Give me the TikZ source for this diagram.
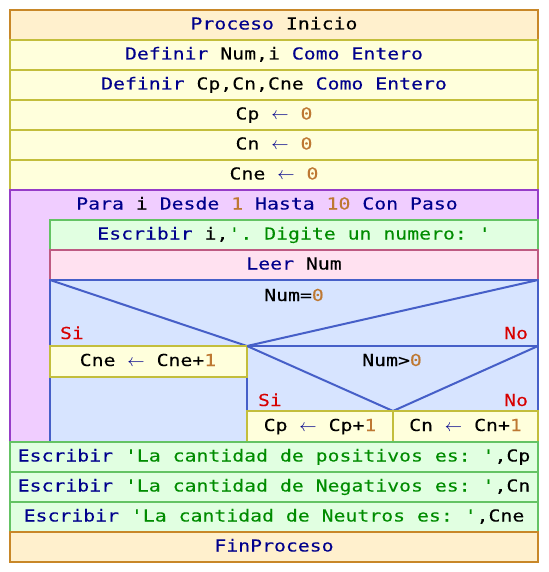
\documentclass[tikz,border=0pt]{standalone}
\usepackage{fontspec}
\setmonofont[FakeStretch=1.2, FakeBold=0.12]{DejaVu Sans Mono}
\usepackage{tikz}
\usepackage{xcolor}
\definecolor{kwnavy}{RGB}{0,0,140}
\definecolor{numbrown}{RGB}{190,120,50}
\definecolor{strgreen}{RGB}{0,140,0}
\definecolor{sired}{RGB}{215,0,0}
\definecolor{procfill}{RGB}{255,240,205}
\definecolor{procline}{RGB}{200,135,40}
\definecolor{deffill}{RGB}{255,255,220}
\definecolor{defline}{RGB}{195,190,60}
\definecolor{parafill}{RGB}{240,205,255}
\definecolor{paraline}{RGB}{150,60,200}
\definecolor{escfill}{RGB}{225,255,225}
\definecolor{escline}{RGB}{100,195,100}
\definecolor{leerfill}{RGB}{255,225,240}
\definecolor{leerline}{RGB}{190,90,130}
\definecolor{sifill}{RGB}{215,228,255}
\definecolor{siline}{RGB}{70,95,200}
\newcommand{\kw}[1]{\textcolor{kwnavy}{#1}}
\newcommand{\nv}[1]{\textcolor{numbrown}{#1}}
\newcommand{\sv}[1]{\textcolor{strgreen}{#1}}
\newcommand{\asg}{\kw{$\leftarrow$}}

\begin{document}
\begin{tikzpicture}[x=1pt, y=-1pt, line width=2pt,
    lbl/.style={font=\ttfamily\fontsize{16.5}{18}\selectfont, anchor=base, inner sep=0pt},
    cond/.style={lbl, text=sired},
    procbox/.style={fill=procfill, draw=procline},
    defbox/.style={fill=deffill, draw=defline},
    parabox/.style={fill=parafill, draw=paraline},
    escbox/.style={fill=escfill, draw=escline},
    leerbox/.style={fill=leerfill, draw=leerline},
    sibox/.style={fill=sifill, draw=siline}]
    \useasboundingbox (0,0) rectangle (548,572);

    % Inicio and definitions
    \filldraw[procbox] (10,10) rectangle (538,40);
    \node[lbl] (inicio) at (274,29.5) {\kw{Proceso} Inicio};
    \filldraw[defbox] (10,40) rectangle (538,70);
    \node[lbl] (defnum) at (274,59.5) {\kw{Definir} Num,i \kw{Como Entero}};
    \filldraw[defbox] (10,70) rectangle (538,100);
    \node[lbl] (defcont) at (274,89.5) {\kw{Definir} Cp,Cn,Cne \kw{Como Entero}};
    \filldraw[defbox] (10,100) rectangle (538,130);
    \node[lbl] (cpcero) at (274,119.5) {Cp \asg{} \nv{0}};
    \filldraw[defbox] (10,130) rectangle (538,160);
    \node[lbl] (cncero) at (274,149.5) {Cn \asg{} \nv{0}};
    \filldraw[defbox] (10,160) rectangle (538,190);
    \node[lbl] (cnecero) at (274,179.5) {Cne \asg{} \nv{0}};

    % Para loop
    \filldraw[parabox] (10,190) rectangle (538,442);
    \node[lbl] (para) at (267,209.5) {\kw{Para} i \kw{Desde} \nv{1} \kw{Hasta} \nv{10} \kw{Con Paso}};
    \filldraw[escbox] (50,220) rectangle (538,250);
    \node[lbl] (escnum) at (294,239.5) {\kw{Escribir} i,\sv{'. Digite un numero: '}};
    \filldraw[leerbox] (50,250) rectangle (538,280);
    \node[lbl] (leer) at (294,269.5) {\kw{Leer} Num};

    % Si Num=0
    \filldraw[sibox] (50,280) rectangle (538,442);
    \draw[siline] (50,280) -- (247,346) -- (538,280);
    \draw[siline] (50,346) -- (538,346);
    \draw[siline] (247,346) -- (247,442);
    \node[lbl] (igual) at (294,301) {Num=\nv{0}};
    \node[cond, anchor=base west] (si1) at (59,339) {Si};
    \node[cond, anchor=base east] (no1) at (529,339) {No};
    \filldraw[defbox] (50,346) rectangle (247,377);
    \node[lbl] (cnemas) at (148,366) {Cne \asg{} Cne+\nv{1}};

    % Si Num>0
    \draw[siline] (247,346) -- (393,411) -- (538,346);
    \node[lbl] (mayor) at (392,366) {Num>\nv{0}};
    \node[cond, anchor=base west] (si2) at (257,406) {Si};
    \node[cond, anchor=base east] (no2) at (529,406) {No};
    \filldraw[defbox] (247,411) rectangle (393,442);
    \node[lbl] (cpmas) at (320,431) {Cp \asg{} Cp+\nv{1}};
    \filldraw[defbox] (393,411) rectangle (538,442);
    \node[lbl] (cnmas) at (465.5,431) {Cn \asg{} Cn+\nv{1}};

    % Resultados
    \filldraw[escbox] (10,442) rectangle (538,472);
    \node[lbl] (escpos) at (274,461.5) {\kw{Escribir} \sv{'La cantidad de positivos es: '},Cp};
    \filldraw[escbox] (10,472) rectangle (538,502);
    \node[lbl] (escneg) at (274,491.5) {\kw{Escribir} \sv{'La cantidad de Negativos es: '},Cn};
    \filldraw[escbox] (10,502) rectangle (538,532);
    \node[lbl] (escneu) at (274,521.5) {\kw{Escribir} \sv{'La cantidad de Neutros es: '},Cne};
    \filldraw[procbox] (10,532) rectangle (538,562);
    \node[lbl] (fin) at (274,551.5) {\kw{FinProceso}};
\end{tikzpicture}
\end{document}
